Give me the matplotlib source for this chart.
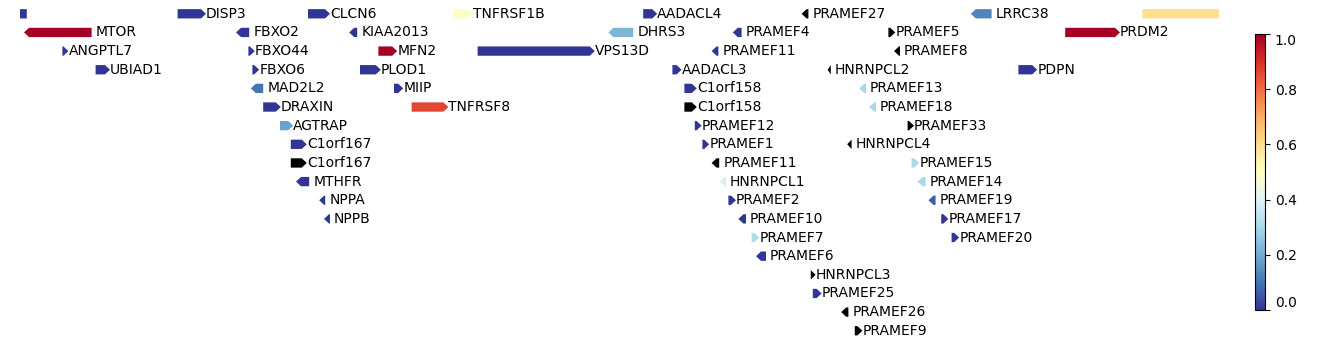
import numpy as np
import matplotlib
matplotlib.use("Agg")
import matplotlib.pyplot as plt
from matplotlib.patches import Polygon
from matplotlib.colors import Normalize
import matplotlib.cm as cm

nan = np.nan
# gene data (kb), strand (+1 / -1), value (nan = no value -> black), layout row
# (genes cut by the view edge carry no visible label in the reference)
names = ["", "DISP3", "CLCN6", "TNFRSF1B", "AADACL4", "PRAMEF27", "LRRC38", "",
         "MTOR", "FBXO2", "KIAA2013", "DHRS3", "PRAMEF4", "PRAMEF5", "PRDM2",
         "ANGPTL7", "FBXO44", "MFN2", "VPS13D", "PRAMEF11", "PRAMEF8",
         "UBIAD1", "FBXO6", "PLOD1", "AADACL3", "HNRNPCL2", "PDPN",
         "MAD2L2", "MIIP", "C1orf158", "PRAMEF13",
         "DRAXIN", "TNFRSF8", "C1orf158", "PRAMEF18",
         "AGTRAP", "PRAMEF12", "PRAMEF33",
         "C1orf167", "PRAMEF1", "HNRNPCL4",
         "C1orf167", "PRAMEF11", "PRAMEF15",
         "MTHFR", "HNRNPCL1", "PRAMEF14",
         "NPPA", "PRAMEF2", "PRAMEF19",
         "NPPB", "PRAMEF10", "PRAMEF17",
         "PRAMEF7", "PRAMEF20",
         "PRAMEF6", "HNRNPCL3", "PRAMEF25", "PRAMEF26", "PRAMEF9"]
starts = [11056, 11475, 11801, 12163, 12639, 13035, 13458, 13887,
          11091, 11621, 11904, 12552, 12863, 13252, 13694,
          11187, 11652, 11977, 12225, 12810, 13266,
          11270, 11662, 11931, 12712, 13100, 13577,
          11658, 12016, 12742, 13179,
          11689, 12060, 12742, 13204,
          11731, 12768, 13300,
          11758, 12787, 13149,
          11758, 12810, 13310,
          11771, 12831, 13325,
          11829, 12852, 13352,
          11841, 12877, 13384,
          12910, 13410,
          12921, 13058, 13063, 13134, 13168]
ends = [11098, 11546, 11856, 12214, 12674, 13052, 13510, 14300,
        11260, 11654, 11924, 12614, 12885, 13269, 13831,
        11202, 11668, 12024, 12518, 12827, 13281,
        11306, 11679, 11983, 12735, 13108, 13624,
        11689, 12039, 12773, 13196,
        11733, 12152, 12773, 13221,
        11764, 12785, 13316,
        11798, 12804, 13160,
        11798, 12829, 13329,
        11804, 12846, 13345,
        11844, 12871, 13370,
        11856, 12896, 13402,
        12929, 13429,
        12946, 13070, 13085, 13152, 13187]
strands = [-1, 1, 1, 1, 1, -1, -1, 1,
           -1, -1, -1, -1, -1, 1, 1,
           1, 1, 1, 1, -1, -1,
           1, 1, 1, 1, -1, 1,
           -1, 1, 1, -1,
           1, 1, 1, -1,
           1, 1, 1,
           1, 1, -1,
           1, -1, 1,
           -1, -1, -1,
           -1, 1, -1,
           -1, -1, 1,
           1, 1,
           -1, 1, 1, -1, 1]
values = [0.0, 0.0, 0.0, 0.49, 0.0, nan, 0.13, 0.6,
          1.0, 0.0, 0.0, 0.22, 0.0, nan, 1.0,
          0.0, 0.0, 1.0, 0.0, 0.0, nan,
          0.0, 0.0, 0.0, 0.0, nan, 0.0,
          0.1, 0.0, 0.0, 0.3,
          0.0, 0.86, nan, 0.3,
          0.18, 0.0, nan,
          0.0, 0.0, nan,
          nan, nan, 0.3,
          0.0, 0.38, 0.3,
          0.0, 0.0, 0.07,
          0.0, 0.0, 0.0,
          0.31, 0.0,
          0.0, nan, 0.0, nan, nan]
rows = [0, 0, 0, 0, 0, 0, 0, 0,
        1, 1, 1, 1, 1, 1, 1,
        2, 2, 2, 2, 2, 2,
        3, 3, 3, 3, 3, 3,
        4, 4, 4, 4,
        5, 5, 5, 5,
        6, 6, 6,
        7, 7, 7,
        8, 8, 8,
        9, 9, 9,
        10, 10, 10,
        11, 11, 11,
        12, 12,
        13, 14, 15, 16, 17]

W, H = 1338, 344
fig = plt.figure(figsize=(W / 100, H / 100), dpi=100)
ax = fig.add_axes([20 / W, 0, 1199 / W, 1])
xmin, xmax = 11081, 14078.5
ax.set_xlim(xmin, xmax)
ax.set_ylim(17.71, -0.74)
ax.axis("off")

cmap = matplotlib.colormaps["RdYlBu_r"].with_extremes(bad="black")
norm = Normalize(0, 1)

kb_per_px = (xmax - xmin) / 1199
head = 5 * kb_per_px
half = 0.25
for n, s, e, st, v, r in zip(names, starts, ends, strands, values, rows):
    col = "black" if np.isnan(v) else cmap(norm(v))
    hl = min(head, e - s)
    if st > 0:
        pts = [(s, r - half), (e - hl, r - half), (e, r), (e - hl, r + half), (s, r + half)]
        tx = e
    else:
        pts = [(e, r - half), (s + hl, r - half), (s, r), (s + hl, r + half), (e, r + half)]
        tx = e + 4 * kb_per_px
    ax.add_patch(Polygon(pts, closed=True, facecolor=col, edgecolor="none", clip_on=True))
    if n:
        ax.text(tx, r, n, fontsize=10, va="center", ha="left", clip_on=True)

cax = fig.add_axes([1255 / W, (H - 310) / H, 10 / W, 276 / H])
sm = cm.ScalarMappable(norm=norm, cmap=matplotlib.colormaps["RdYlBu_r"])
cb = fig.colorbar(sm, cax=cax)
cb.set_ticks([0.0, 0.2, 0.4, 0.6, 0.8, 1.0])
cb.ax.tick_params(labelsize=10)
labs = cb.ax.get_yticklabels()
labs[0].set_va("bottom")
labs[-1].set_va("top")

fig.savefig("out.png", dpi=100)
